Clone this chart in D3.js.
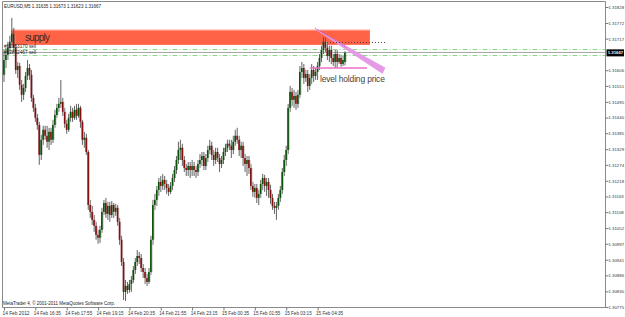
<!DOCTYPE html>
<html>
<head>
<meta charset="utf-8">
<script src="https://cdn.jsdelivr.net/npm/d3@7"></script>
<style>
  body { margin: 0; background: #fff; }
  svg text { font-family: "Liberation Sans", "DejaVu Sans", sans-serif; }
</style>
</head>
<body>
<div id="chart"></div>
<script>
// EURUSD M5 bars, 14 Feb 2012 15:15 -> 15 Feb 05:45
const opens = [1.31590,1.31642,1.31660,1.31685,1.31706,1.31734,1.31685,1.31607,1.31621,1.31555,
1.31520,1.31544,1.31586,1.31614,1.31590,1.31509,1.31474,1.31439,1.31414,1.31309,
1.31362,1.31397,1.31376,1.31355,1.31390,1.31362,1.31414,1.31449,1.31474,1.31488,
1.31495,1.31460,1.31418,1.31397,1.31439,1.31460,1.31439,1.31467,1.31446,1.31474,
1.31425,1.31362,1.31369,1.31319,1.31133,1.31109,1.31081,1.31060,1.31028,1.31018,
1.31046,1.31109,1.31140,1.31102,1.31130,1.31098,1.31133,1.31109,1.31123,1.31074,
1.31011,1.30933,1.30828,1.30849,1.30835,1.30856,1.30870,1.30905,1.30933,1.30954,
1.30947,1.30912,1.30898,1.30877,1.30863,1.30898,1.31011,1.31133,1.31151,1.31186,
1.31214,1.31200,1.31221,1.31207,1.31193,1.31179,1.31200,1.31228,1.31256,1.31291,
1.31326,1.31334,1.31291,1.31263,1.31256,1.31270,1.31256,1.31270,1.31256,1.31249,
1.31277,1.31291,1.31305,1.31270,1.31298,1.31326,1.31341,1.31309,1.31291,1.31319,
1.31298,1.31277,1.31291,1.31319,1.31334,1.31348,1.31341,1.31326,1.31355,1.31376,
1.31362,1.31326,1.31341,1.31298,1.31277,1.31291,1.31263,1.31200,1.31179,1.31193,
1.31158,1.31172,1.31207,1.31228,1.31200,1.31214,1.31186,1.31158,1.31130,1.31123,
1.31130,1.31158,1.31186,1.31249,1.31291,1.31326,1.31474,1.31530,1.31502,1.31516,
1.31488,1.31520,1.31600,1.31614,1.31579,1.31593,1.31551,1.31579,1.31607,1.31586,
1.31600,1.31621,1.31649,1.31677,1.31706,1.31685,1.31656,1.31677,1.31649,1.31635,
1.31663,1.31635,1.31649,1.31628,1.31635];
const highs = [1.31677,1.31685,1.31706,1.31727,1.31790,1.31755,1.31699,1.31635,1.31632,1.31572,
1.31558,1.31600,1.31642,1.31628,1.31607,1.31520,1.31488,1.31453,1.31425,1.31379,
1.31411,1.31411,1.31411,1.31404,1.31404,1.31432,1.31467,1.31488,1.31509,1.31572,
1.31509,1.31474,1.31432,1.31453,1.31481,1.31474,1.31481,1.31488,1.31488,1.31481,
1.31432,1.31390,1.31383,1.31326,1.31151,1.31130,1.31098,1.31074,1.31046,1.31060,
1.31123,1.31151,1.31158,1.31144,1.31144,1.31147,1.31140,1.31137,1.31133,1.31088,
1.31025,1.30947,1.30870,1.30863,1.30870,1.30884,1.30919,1.30947,1.30975,1.30968,
1.30961,1.30926,1.30912,1.30891,1.30912,1.31025,1.31151,1.31172,1.31200,1.31228,
1.31235,1.31242,1.31235,1.31221,1.31207,1.31214,1.31242,1.31270,1.31305,1.31355,
1.31362,1.31348,1.31305,1.31277,1.31284,1.31284,1.31291,1.31284,1.31270,1.31291,
1.31312,1.31319,1.31319,1.31312,1.31341,1.31362,1.31355,1.31326,1.31334,1.31334,
1.31312,1.31305,1.31334,1.31348,1.31362,1.31362,1.31362,1.31376,1.31397,1.31404,
1.31376,1.31355,1.31355,1.31312,1.31305,1.31305,1.31277,1.31214,1.31207,1.31207,
1.31186,1.31221,1.31242,1.31239,1.31228,1.31228,1.31204,1.31172,1.31144,1.31144,
1.31172,1.31200,1.31263,1.31309,1.31341,1.31488,1.31551,1.31544,1.31537,1.31530,
1.31537,1.31621,1.31635,1.31628,1.31607,1.31607,1.31593,1.31628,1.31621,1.31614,
1.31635,1.31663,1.31692,1.31723,1.31720,1.31699,1.31692,1.31692,1.31663,1.31677,
1.31677,1.31663,1.31660,1.31656,1.31673];
const lows = [1.31565,1.31614,1.31642,1.31670,1.31699,1.31670,1.31593,1.31579,1.31537,1.31495,
1.31502,1.31530,1.31572,1.31572,1.31495,1.31460,1.31425,1.31397,1.31274,1.31291,
1.31344,1.31362,1.31334,1.31326,1.31344,1.31351,1.31404,1.31439,1.31460,1.31474,
1.31446,1.31404,1.31383,1.31390,1.31425,1.31425,1.31432,1.31432,1.31439,1.31404,
1.31344,1.31334,1.31309,1.31116,1.31088,1.31063,1.31039,1.31011,1.30997,1.31000,
1.31035,1.31098,1.31088,1.31081,1.31074,1.31088,1.31088,1.31095,1.31060,1.30993,
1.30919,1.30800,1.30796,1.30821,1.30825,1.30828,1.30860,1.30891,1.30919,1.30926,
1.30898,1.30877,1.30856,1.30849,1.30856,1.30888,1.30993,1.31116,1.31130,1.31165,
1.31179,1.31186,1.31186,1.31172,1.31165,1.31172,1.31186,1.31214,1.31242,1.31277,
1.31291,1.31270,1.31249,1.31235,1.31235,1.31228,1.31235,1.31235,1.31228,1.31235,
1.31263,1.31270,1.31256,1.31256,1.31284,1.31312,1.31291,1.31270,1.31277,1.31284,
1.31249,1.31263,1.31277,1.31305,1.31319,1.31326,1.31298,1.31312,1.31341,1.31348,
1.31305,1.31298,1.31270,1.31249,1.31235,1.31242,1.31186,1.31162,1.31158,1.31140,
1.31133,1.31158,1.31186,1.31179,1.31165,1.31158,1.31137,1.31116,1.31102,1.31081,
1.31116,1.31144,1.31172,1.31235,1.31270,1.31312,1.31460,1.31481,1.31474,1.31467,
1.31474,1.31509,1.31579,1.31558,1.31565,1.31530,1.31537,1.31558,1.31565,1.31572,
1.31572,1.31607,1.31635,1.31663,1.31670,1.31642,1.31635,1.31628,1.31621,1.31614,
1.31614,1.31628,1.31618,1.31621,1.31623];
const closes = [1.31642,1.31660,1.31685,1.31706,1.31734,1.31685,1.31607,1.31621,1.31555,1.31520,
1.31544,1.31586,1.31614,1.31590,1.31509,1.31474,1.31439,1.31414,1.31309,1.31362,
1.31397,1.31376,1.31355,1.31390,1.31362,1.31414,1.31449,1.31474,1.31488,1.31495,
1.31460,1.31418,1.31397,1.31439,1.31460,1.31439,1.31467,1.31446,1.31474,1.31425,
1.31362,1.31369,1.31319,1.31133,1.31109,1.31081,1.31060,1.31028,1.31018,1.31046,
1.31109,1.31140,1.31102,1.31130,1.31098,1.31133,1.31109,1.31123,1.31074,1.31011,
1.30933,1.30828,1.30849,1.30835,1.30856,1.30870,1.30905,1.30933,1.30954,1.30947,
1.30912,1.30898,1.30877,1.30863,1.30898,1.31011,1.31133,1.31151,1.31186,1.31214,
1.31200,1.31221,1.31207,1.31193,1.31179,1.31200,1.31228,1.31256,1.31291,1.31326,
1.31334,1.31291,1.31263,1.31256,1.31270,1.31256,1.31270,1.31256,1.31249,1.31277,
1.31291,1.31305,1.31270,1.31298,1.31326,1.31341,1.31309,1.31291,1.31319,1.31298,
1.31277,1.31291,1.31319,1.31334,1.31348,1.31341,1.31326,1.31355,1.31376,1.31362,
1.31326,1.31341,1.31298,1.31277,1.31291,1.31263,1.31200,1.31179,1.31193,1.31158,
1.31172,1.31207,1.31228,1.31200,1.31214,1.31186,1.31158,1.31130,1.31123,1.31130,
1.31158,1.31186,1.31249,1.31291,1.31326,1.31474,1.31530,1.31502,1.31516,1.31488,
1.31520,1.31600,1.31614,1.31579,1.31593,1.31551,1.31579,1.31607,1.31586,1.31600,
1.31621,1.31649,1.31677,1.31706,1.31685,1.31656,1.31677,1.31649,1.31635,1.31663,
1.31635,1.31649,1.31628,1.31642,1.31667];

// 1.31662 sits under the bid box in the terminal, so it is not listed
const priceTicks = [1.30775,1.30830,1.30886,1.30941,1.30997,1.31052,1.31108,1.31163,1.31218,1.31274,
1.31329,1.31385,1.31440,1.31495,1.31551,1.31606,1.31717,1.31772,1.31828];
const timeLabels = ["14 Feb 2012","14 Feb 16:35","14 Feb 17:55","14 Feb 19:15","14 Feb 20:35","14 Feb 21:55",
"14 Feb 23:15","15 Feb 00:35","15 Feb 01:55","15 Feb 03:15","15 Feb 04:35"];
const timeLabelBars = [0,16,32,48,64,80,96,112,128,144,160];

const header = "EURUSD,M5  1.31635 1.31673 1.31623 1.31667";
const bidPrice = 1.31667;
const orderPrices = [1.31681, 1.31660];
const orderTexts = ["#62853170 sell", "#62852467 sell"];

// drawn objects (bar index / price)
const supplyBars = [3.6, 186.7];
const supplyPrices = [1.31695, 1.31748];
const trendFrom = [159.2, 1.31751];
const trendTo = [193.6, 1.31608];
const dottedBars = [164.8, 194.4];
const dottedPrice = 1.31706;
const levelBars = [156.1, 185.2];
const levelPrice = 1.31614;

const width = 625, height = 317;
const frameL = 2.5, frameR = 605.5, frameT = 1.5, frameB = 307.5;
const fonts = "Liberation Sans, DejaVu Sans, sans-serif";

const svg = d3.select("#chart").append("svg")
  .attr("width", width).attr("height", height)
  .style("display", "block");

const x = d3.scaleLinear().domain([0, opens.length - 1]).range([4, 345]);
const y = d3.scaleLinear().domain([1.30775, 1.31828]).range([307, 7]);

// supply zone
svg.append("rect")
  .attr("x", x(supplyBars[0])).attr("width", x(supplyBars[1]) - x(supplyBars[0]))
  .attr("y", y(supplyPrices[1])).attr("height", y(supplyPrices[0]) - y(supplyPrices[1]))
  .attr("fill", "#ff6347");
svg.append("line")
  .attr("x1", x(supplyBars[0])).attr("x2", x(supplyBars[1]))
  .attr("y1", y(supplyPrices[1]) + 0.5).attr("y2", y(supplyPrices[1]) + 0.5)
  .attr("stroke", "#ff9c8a").attr("stroke-width", 1);
svg.append("text")
  .attr("x", x(10.7)).attr("y", y(1.31709))
  .attr("font-size", 10).attr("fill", "#3b2a24")
  .attr("textLength", 25)
  .text("supply");

// order lines and bid line
svg.selectAll(".order").data(orderPrices).enter().append("line")
  .attr("class", "order")
  .attr("x1", frameL).attr("x2", frameR)
  .attr("y1", d => Math.round(y(d)) + 0.5).attr("y2", d => Math.round(y(d)) + 0.5)
  .attr("stroke", "#90d890").attr("stroke-width", 1)
  .attr("stroke-dasharray", "5,2,1,2");
svg.append("line")
  .attr("x1", frameL).attr("x2", frameR)
  .attr("y1", Math.round(y(bidPrice)) - 0.5).attr("y2", Math.round(y(bidPrice)) - 0.5)
  .attr("stroke", "#a8a8a8").attr("stroke-width", 1);

// candles
const idx = d3.range(opens.length);
const candles = svg.append("g");
candles.selectAll(".wick").data(idx).enter().append("line")
  .attr("class", "wick")
  .attr("x1", i => x(i)).attr("x2", i => x(i))
  .attr("y1", i => y(highs[i])).attr("y2", i => y(lows[i]))
  .attr("stroke", "#505050").attr("stroke-width", 0.9);
candles.selectAll(".shade").data(idx).enter().append("rect")
  .attr("class", "shade")
  .attr("x", i => x(i) + 0.6).attr("width", 0.9)
  .attr("y", i => y(Math.max(opens[i], closes[i])))
  .attr("height", i => Math.max(1, Math.abs(y(opens[i]) - y(closes[i]))))
  .attr("fill", "#bcbcbc");
candles.selectAll(".body").data(idx).enter().append("rect")
  .attr("class", "body")
  .attr("x", i => x(i) - 0.9).attr("width", 1.6)
  .attr("y", i => y(Math.max(opens[i], closes[i])))
  .attr("height", i => Math.max(1, Math.abs(y(opens[i]) - y(closes[i]))))
  .attr("fill", i => closes[i] >= opens[i] ? "#075207" : "#850f0f");

// order labels
svg.selectAll(".otext").data(orderPrices).enter().append("text")
  .attr("x", 4).attr("y", d => y(d) - 1)
  .attr("font-size", 5).attr("fill", "#222")
  .attr("textLength", 32).attr("lengthAdjust", "spacingAndGlyphs")
  .text((d, i) => orderTexts[i]);

// trend wedge
const tx0 = x(trendFrom[0]), ty0 = y(trendFrom[1]);
const tx1 = x(trendTo[0]), ty1 = y(trendTo[1]);
svg.append("path")
  .attr("d", `M${tx0},${ty0} L${tx1 + 2},${ty1 - 2} L${tx1 - 1},${ty1 + 4} L${tx0},${ty0 + 1} Z`)
  .attr("fill", "#e49ae4");
svg.append("line")
  .attr("x1", tx0 - 1).attr("y1", ty0 - 1)
  .attr("x2", tx0 + (tx1 - tx0) * 0.45).attr("y2", ty0 + (ty1 - ty0) * 0.45)
  .attr("stroke", "#c14cc1").attr("stroke-width", 1).attr("stroke-dasharray", "1,1");

// dotted resistance
svg.append("line")
  .attr("x1", x(dottedBars[0])).attr("x2", x(dottedBars[1]))
  .attr("y1", Math.round(y(dottedPrice)) + 0.5).attr("y2", Math.round(y(dottedPrice)) + 0.5)
  .attr("stroke", "#5a3a3a").attr("stroke-width", 1).attr("stroke-dasharray", "1,2");

// level holding price
svg.append("line")
  .attr("x1", x(levelBars[0])).attr("x2", x(levelBars[1]))
  .attr("y1", y(levelPrice)).attr("y2", y(levelPrice))
  .attr("stroke", "#ea6fc4").attr("stroke-width", 1.6);
svg.append("text")
  .attr("x", x(161.2)).attr("y", y(1.31565))
  .attr("font-size", 8.5).attr("fill", "#444")
  .attr("textLength", 65)
  .text("level holding price");

// frame
svg.append("path")
  .attr("d", `M${frameL},${frameB} L${frameL},${frameT} L${frameR},${frameT} L${frameR},${frameB} Z`)
  .attr("fill", "none").attr("stroke", "#8a8a8a").attr("stroke-width", 1);

// price axis
const yAxis = svg.append("g")
  .attr("transform", `translate(${frameR},0)`)
  .call(d3.axisRight(y).tickValues(priceTicks).tickSize(3).tickPadding(0).tickFormat(d3.format(".5f")));
yAxis.select(".domain").remove();
yAxis.selectAll("line").attr("stroke", "#777");
yAxis.selectAll("text").attr("font-size", 4.3).attr("fill", "#333")
  .attr("font-family", fonts);

// bid box
const by = y(bidPrice);
svg.append("rect").attr("x", frameR + 1).attr("y", by - 3.5).attr("width", 17.5).attr("height", 7).attr("fill", "#000");
svg.append("text").attr("x", frameR + 2.2).attr("y", by + 1.6).attr("font-size", 4.3).attr("fill", "#fff")
  .attr("font-weight", "bold")
  .text(d3.format(".5f")(bidPrice));

// time axis
const xAxis = svg.append("g")
  .attr("transform", `translate(0,${frameB})`)
  .call(d3.axisBottom(x).tickValues(timeLabelBars).tickSize(3).tickPadding(1)
    .tickFormat((d, i) => timeLabels[i]));
xAxis.select(".domain").remove();
xAxis.selectAll("line").attr("stroke", "#777");
xAxis.selectAll("text").attr("font-size", 5).attr("fill", "#333")
  .attr("text-anchor", "start").attr("dx", -2)
  .attr("font-family", fonts)
  .attr("textLength", 27).attr("lengthAdjust", "spacingAndGlyphs");

// header and copyright
svg.append("text").attr("x", 4).attr("y", 7.5).attr("font-size", 5).attr("fill", "#222")
  .attr("textLength", 97).attr("lengthAdjust", "spacingAndGlyphs").text(header);
svg.append("text").attr("x", 3).attr("y", 305).attr("font-size", 5).attr("fill", "#222")
  .attr("textLength", 112).attr("lengthAdjust", "spacingAndGlyphs")
  .text("MetaTrader 4, \u00a9 2001-2011 MetaQuotes Software Corp.");
</script>
</body>
</html>
